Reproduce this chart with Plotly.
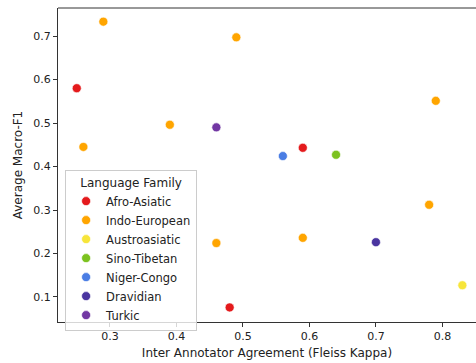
import plotly.graph_objects as go

families = ["Afro-Asiatic", "Indo-European", "Austroasiatic", "Sino-Tibetan",
            "Niger-Congo", "Dravidian", "Turkic"]
colors = ["#e41a1c", "#ffa500", "#f7e53a", "#7cc21f", "#4a7de4", "#4a35a0", "#7237a3"]

kappa = {
    "Afro-Asiatic": [0.25, 0.59, 0.48],
    "Indo-European": [0.29, 0.26, 0.39, 0.49, 0.79, 0.78, 0.59, 0.46],
    "Austroasiatic": [0.83],
    "Sino-Tibetan": [0.64],
    "Niger-Congo": [0.56],
    "Dravidian": [0.70],
    "Turkic": [0.46],
}
macro_f1 = {
    "Afro-Asiatic": [0.580, 0.443, 0.076],
    "Indo-European": [0.733, 0.445, 0.496, 0.697, 0.551, 0.312, 0.236, 0.224],
    "Austroasiatic": [0.127],
    "Sino-Tibetan": [0.427],
    "Niger-Congo": [0.424],
    "Dravidian": [0.226],
    "Turkic": [0.490],
}

fig = go.Figure()
for fam, col in zip(families, colors):
    fig.add_trace(go.Scatter(
        x=kappa[fam], y=macro_f1[fam], mode="markers", name=fam,
        marker=dict(color=col, size=9, line=dict(width=0.6, color="white")),
    ))

axis_common = dict(
    showgrid=False, zeroline=False, showline=True, linecolor="#333",
    linewidth=1, ticks="outside", ticklen=4, tickcolor="#333",
    tickfont=dict(size=11, color="#222"),
)
fig.update_layout(
    width=476, height=363,
    margin=dict(l=58, r=0, t=8, b=41),
    plot_bgcolor="white", paper_bgcolor="white",
    font=dict(family="DejaVu Sans", color="#222"),
    xaxis=dict(range=[0.2218, 0.8505], tickvals=[0.3, 0.4, 0.5, 0.6, 0.7, 0.8],
               ticktext=["0.3", "0.4", "0.5", "0.6", "0.7", "0.8"],
               title=dict(text="Inter Annotator Agreement (Fleiss Kappa)",
                          font=dict(size=12), standoff=6),
               **axis_common),
    yaxis=dict(range=[0.0425, 0.7644], tickvals=[0.1, 0.2, 0.3, 0.4, 0.5, 0.6, 0.7],
               ticktext=["0.1", "0.2", "0.3", "0.4", "0.5", "0.6", "0.7"],
               title=dict(text="Average Macro-F1", font=dict(size=12), standoff=8),
               **axis_common),
    legend=dict(
        title=dict(text="Language Family", side="top center", font=dict(size=12)),
        x=0.017, y=0.484, xanchor="left", yanchor="top",
        bgcolor="rgba(255,255,255,0.8)", bordercolor="#cccccc", borderwidth=1,
        font=dict(size=11.5), tracegroupgap=0, itemwidth=30,
    ),
    shapes=[dict(type="line", xref="paper", yref="paper", x0=0, x1=1, y0=1, y1=1,
                 line=dict(color="#333", width=1))],
)

fig.write_html("out.html", config={"displayModeBar": False},
               post_script="document.body.style.margin='0';document.body.style.overflow='hidden';")
